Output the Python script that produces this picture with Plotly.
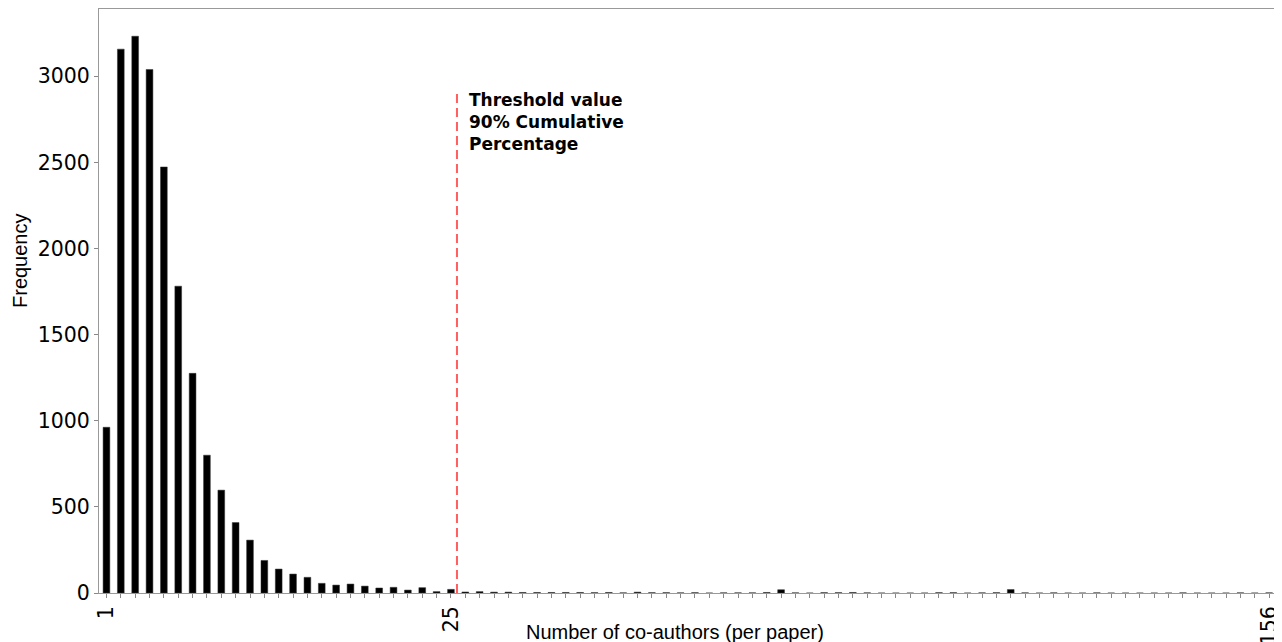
import plotly.graph_objects as go

# ---- data ----
coauthors = list(range(1, 61)) + [61, 63, 66, 68, 71, 74, 77, 80, 85, 90, 96, 100,
                                   104, 110, 115, 120, 126, 132, 138, 144, 150, 156]
frequency = [962, 3157, 3232, 3039, 2473, 1781, 1275, 800, 597, 409,
             307, 189, 139, 110, 91, 56, 46, 52, 40, 29,
             33, 17, 31, 8, 21, 6, 8, 5, 5, 3,
             3, 3, 3, 3, 2, 3, 1, 5, 2, 2,
             1, 2, 0, 1, 1, 1, 3, 19, 1, 0,
             2, 2, 3, 1, 0, 0, 0, 0, 2, 2,
             0, 1, 2, 20, 1, 0, 1, 0, 0, 1,
             0, 0, 0, 0, 0, 1, 0, 0, 0, 1,
             0, 1]
labeled_ticks = [1, 25, 156]
threshold = 25
threshold_top = 2917
annotation_text = "Threshold value<br>90% Cumulative<br>Percentage"
x_title = "Number of co-authors (per paper)"
y_title = "Frequency"
y_ticks = [0, 500, 1000, 1500, 2000, 2500, 3000]

cats = [str(c) for c in coauthors]
ticktext = [str(c) if c in labeled_ticks else "" for c in coauthors]

fig = go.Figure()
fig.add_trace(go.Bar(
    x=cats, y=frequency,
    marker=dict(color="black", line=dict(color="#333333", width=0.5)),
    width=0.47,
    showlegend=False,
))

thr_x = cats.index(str(threshold)) + 0.42
fig.add_shape(type="line", xref="x", yref="y",
              x0=thr_x, x1=thr_x, y0=0, y1=threshold_top,
              line=dict(color="#ff5f5f", width=2, dash="9px,5px"))

fig.add_annotation(x=thr_x, y=threshold_top, xref="x", yref="y",
                   xanchor="left", yanchor="top", xshift=10, yshift=2,
                   text="<b>" + annotation_text + "</b>", showarrow=False, align="left",
                   font=dict(family="DejaVu Sans", size=17, color="black"))

fig.add_annotation(x=0, y=0.5, xref="paper", yref="paper", text=y_title,
                   textangle=-90, showarrow=False, xanchor="center", yanchor="middle",
                   xshift=-79, yshift=40,
                   font=dict(family="Liberation Sans", size=20, color="black"))

fig.add_annotation(x=0.489, y=0, xref="paper", yref="paper", text=x_title,
                   showarrow=False, xanchor="center", yanchor="middle", yshift=-39,
                   font=dict(family="Liberation Sans", size=20, color="black"))

fig.update_layout(
    width=1274, height=634,
    margin=dict(l=91, r=5, t=1, b=49),
    paper_bgcolor="white", plot_bgcolor="white",
    bargap=0.53,
    font=dict(family="DejaVu Sans", color="black"),
    xaxis=dict(type="category", range=[-0.52, 81.55], automargin=False,
               tickmode="array", tickvals=cats, ticktext=ticktext,
               tickangle=-90, ticks="outside", ticklen=4, tickcolor="#888888",
               tickfont=dict(family="DejaVu Sans", size=20.5, color="black"),
               showline=True, linecolor="#999999", linewidth=1, mirror=True,
               showgrid=False, zeroline=False),
    yaxis=dict(range=[0, 3390], tickvals=y_ticks, automargin=False,
               ticks="outside", ticklen=4, tickcolor="#888888",
               tickfont=dict(family="DejaVu Sans", size=20.5, color="black"),
               showline=True, linecolor="#999999", linewidth=1, mirror=True,
               showgrid=False, zeroline=False),
)

fig.write_html("out.html")
